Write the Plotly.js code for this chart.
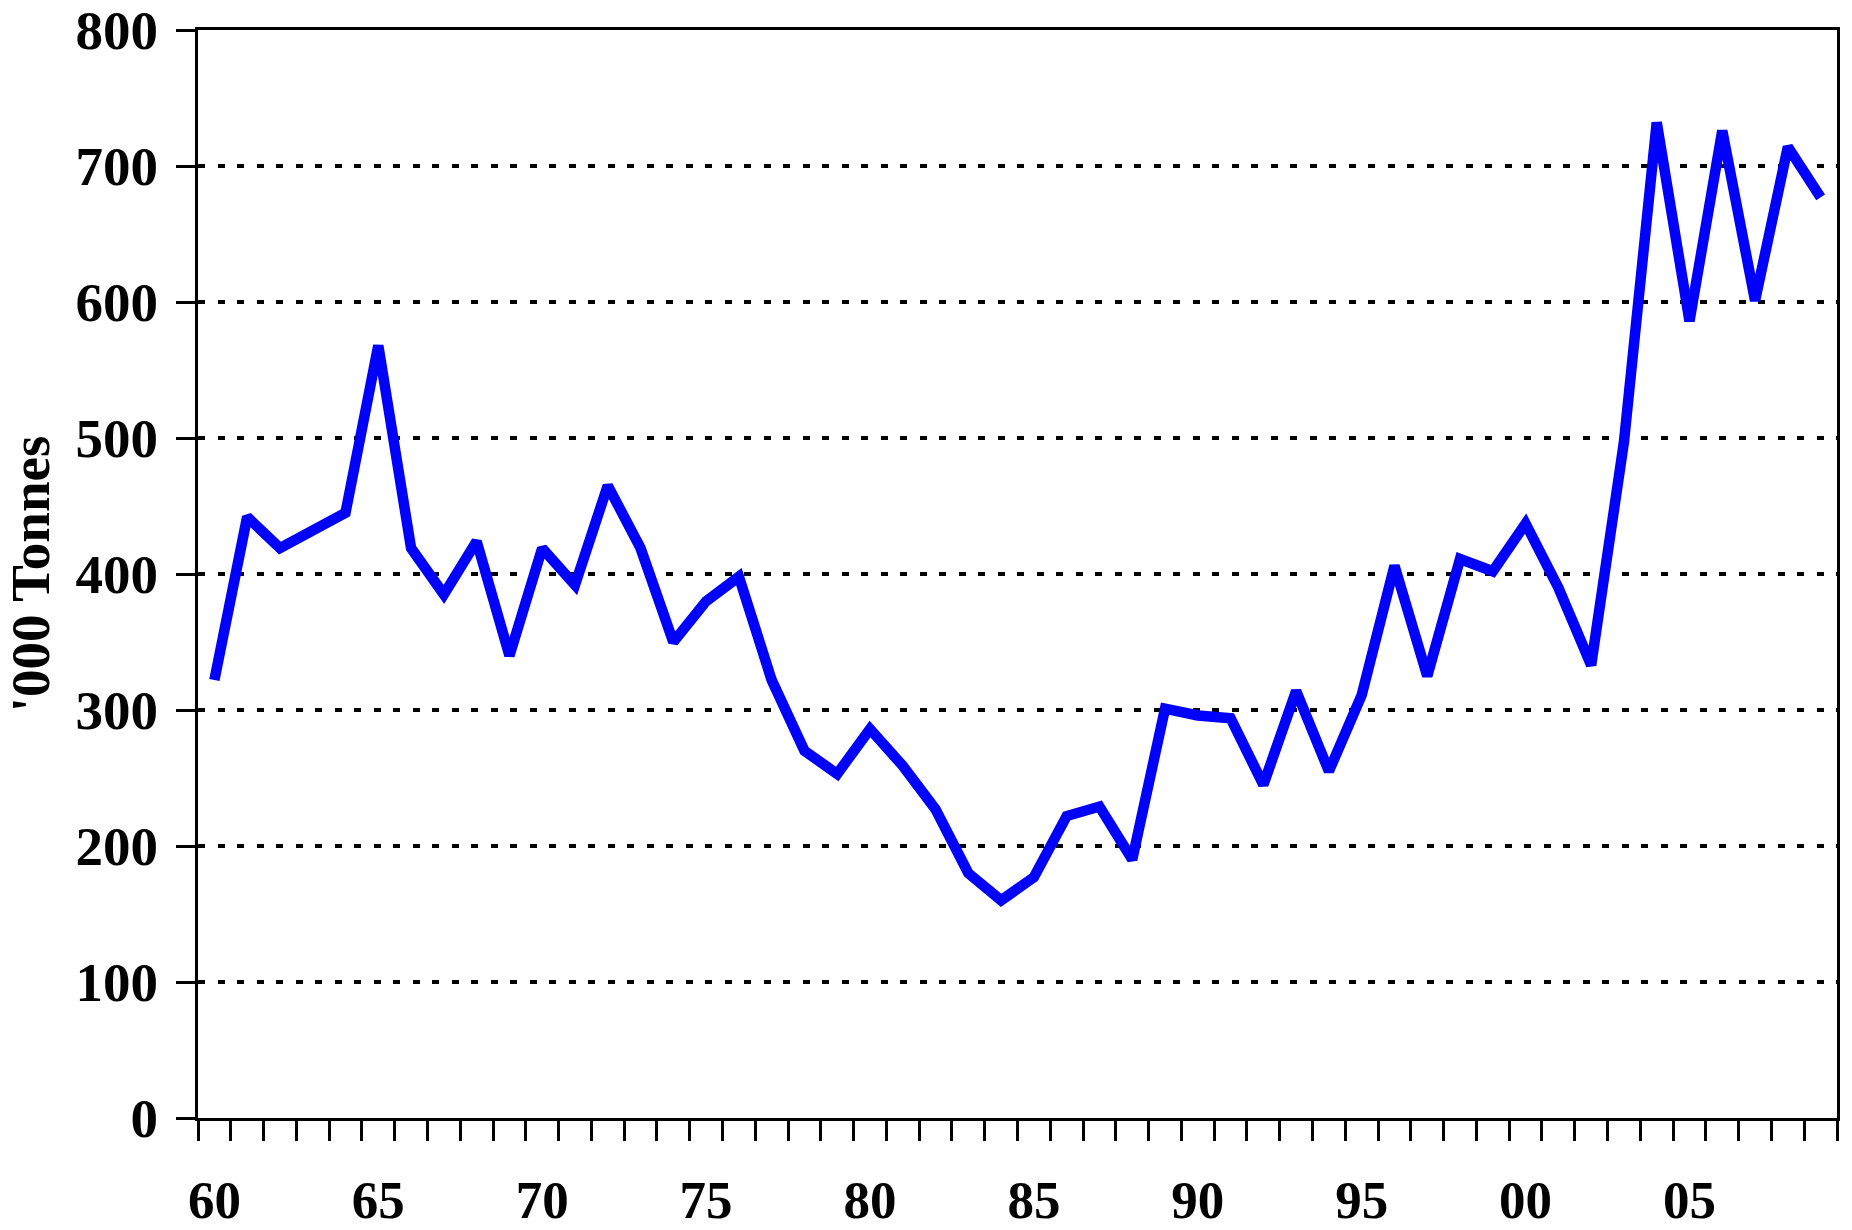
<!DOCTYPE html>
<html>
<head>
<meta charset="utf-8">
<script src="https://cdn.plot.ly/plotly-3.0.1.min.js"></script>
<style>html,body{margin:0;padding:0;background:#fff;}#chart{width:1852px;height:1230px;}</style>
</head>
<body>
<div id="chart"></div>
<script>
const years = [1960,1961,1962,1963,1964,1965,1966,1967,1968,1969,
               1970,1971,1972,1973,1974,1975,1976,1977,1978,1979,
               1980,1981,1982,1983,1984,1985,1986,1987,1988,1989,
               1990,1991,1992,1993,1994,1995,1996,1997,1998,1999,
               2000,2001,2002,2003,2004,2005,2006,2007,2008,2009];
const tonnes = [322,442,419,432,445,568,419,385,424,340,
                419,392,465,419,350,380,398,322,270,253,
                286,259,227,180,160,177,222,229,190,301,
                296,294,245,314,255,311,406,325,411,402,
                437,390,333,497,732,586,726,601,714,677];
const labelYears = [1960,1965,1970,1975,1980,1985,1990,1995,2000,2005];
const labelText = ['60','65','70','75','80','85','90','95','00','05'];
const yTitle = "'000 Tonnes";

const boundaries = years.map(y => y - 0.5).concat([years[years.length - 1] + 0.5]);
const fam = '"Liberation Serif", "Times New Roman", serif';
const yFont = {family: fam, size: 55, color: '#000', weight: 'bold'};
const xFont = {family: fam, size: 53, color: '#000', weight: 'bold'};

const trace = {
  x: years, y: tonnes, type: 'scatter', mode: 'lines',
  line: {color: '#0000FF', width: 10.5},
  hoverinfo: 'x+y'
};

const layout = {
  width: 1852, height: 1230,
  margin: {l: 198, r: 15, t: 30, b: 112},
  paper_bgcolor: '#fff', plot_bgcolor: '#fff',
  showlegend: false,
  font: yFont,
  xaxis: {
    range: [boundaries[0], boundaries[boundaries.length - 1]],
    tickmode: 'array', tickvals: labelYears, ticktext: labelText,
    ticks: '', showgrid: false, zeroline: false,
    showline: true, linecolor: '#000', linewidth: 3, mirror: true,
    tickfont: xFont, ticklabelstandoff: 33,
    minor: {tickmode: 'array', tickvals: boundaries, ticks: 'outside', ticklen: 20, tickwidth: 3, tickcolor: '#000', showgrid: false}
  },
  yaxis: {
    range: [0, 800], tickmode: 'linear', tick0: 0, dtick: 100,
    ticks: 'outside', ticklen: 19, tickwidth: 3, tickcolor: '#000',
    showgrid: true, gridcolor: '#000', gridwidth: 3.5, griddash: '7px,12.5px',
    zeroline: false, showline: true, linecolor: '#000', linewidth: 3, mirror: true,
    tickfont: yFont, ticklabelstandoff: 7,
    title: {text: yTitle, font: {family: fam, size: 55, color: '#000', weight: 'bold'}, standoff: 16}
  }
};

Plotly.newPlot('chart', [trace], layout, {displayModeBar: false, staticPlot: true});
</script>
</body>
</html>
